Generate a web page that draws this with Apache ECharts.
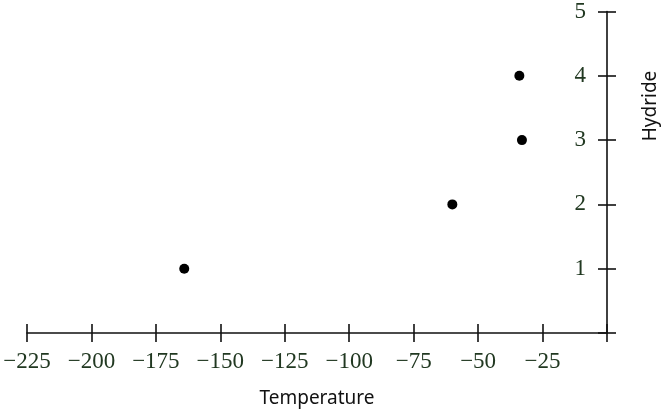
<!DOCTYPE html>
<html>
<head>
<meta charset="utf-8">
<script src="https://cdn.jsdelivr.net/npm/echarts@6/dist/echarts.min.js"></script>
<style>html,body{margin:0;padding:0;background:#fff}#c{width:672px;height:413px}</style>
</head>
<body>
<div id="c"></div>
<script>
var temperatures = [-164, -60, -33, -34];
var hydrides = [1, 2, 3, 4];
var xTicks = [-225, -200, -175, -150, -125, -100, -75, -50, -25, 0];
var yTicks = [0, 1, 2, 3, 4, 5];

var points = temperatures.map(function (t, i) { return [t, hydrides[i]]; });
var labelColor = '#213821';
var serif = 'Liberation Serif';
var fmtX = function (v) { return v === 0 ? '' : (v < 0 ? '\u2212' + Math.abs(v) : String(v)); };
var fmtY = function (v) { return v === 0 ? '' : String(v); };
var lineStyle = { color: '#111', width: 1.6 };

var chart = echarts.init(document.getElementById('c'), null, { renderer: 'canvas' });
chart.setOption({
  animation: false,
  backgroundColor: '#fff',
  grid: { left: 27, right: 65, top: 10, bottom: 80, containLabel: false },
  xAxis: [{
    type: 'value', min: xTicks[0], max: xTicks[xTicks.length - 1], interval: 25,
    position: 'bottom',
    axisLine: { show: true, onZero: false, lineStyle: lineStyle },
    axisTick: { show: true, inside: false, length: 9, lineStyle: lineStyle },
    axisLabel: { formatter: fmtX, margin: 17, fontFamily: serif, fontSize: 23, color: labelColor },
    splitLine: { show: false },
    name: 'Temperature', nameLocation: 'middle', nameGap: 56,
    nameTextStyle: { fontFamily: 'Noto Sans', fontSize: 19, color: '#111' }
  }, {
    type: 'value', min: xTicks[0], max: xTicks[xTicks.length - 1], interval: 25,
    position: 'bottom',
    axisLine: { show: false, onZero: false },
    axisTick: { show: true, inside: true, length: 9, lineStyle: lineStyle },
    axisLabel: { show: false },
    splitLine: { show: false }
  }],
  yAxis: [{
    type: 'value', min: yTicks[0], max: yTicks[yTicks.length - 1], interval: 1,
    position: 'right',
    axisLine: { show: true, onZero: false, lineStyle: lineStyle },
    axisTick: { show: true, inside: true, length: 9, lineStyle: lineStyle },
    axisLabel: { inside: true, formatter: fmtY, margin: 21, fontFamily: serif, fontSize: 23, color: labelColor },
    splitLine: { show: false }
  }, {
    type: 'value', min: yTicks[0], max: yTicks[yTicks.length - 1], interval: 1,
    position: 'right', offset: 0,
    axisLine: { show: false, onZero: false },
    axisTick: { show: true, inside: false, length: 9, lineStyle: lineStyle },
    axisLabel: { show: false },
    splitLine: { show: false }
  }],
  graphic: [{
    type: 'text', x: 651, y: 106, rotation: Math.PI / 2,
    style: { text: 'Hydride', font: '19px "Noto Sans"', fill: '#111', align: 'center', verticalAlign: 'middle' }
  }],
  series: [{
    type: 'scatter', xAxisIndex: 0, yAxisIndex: 0,
    data: points, symbol: 'circle', symbolSize: 10,
    itemStyle: { color: '#000', opacity: 1 }
  }]
});
</script>
</body>
</html>
